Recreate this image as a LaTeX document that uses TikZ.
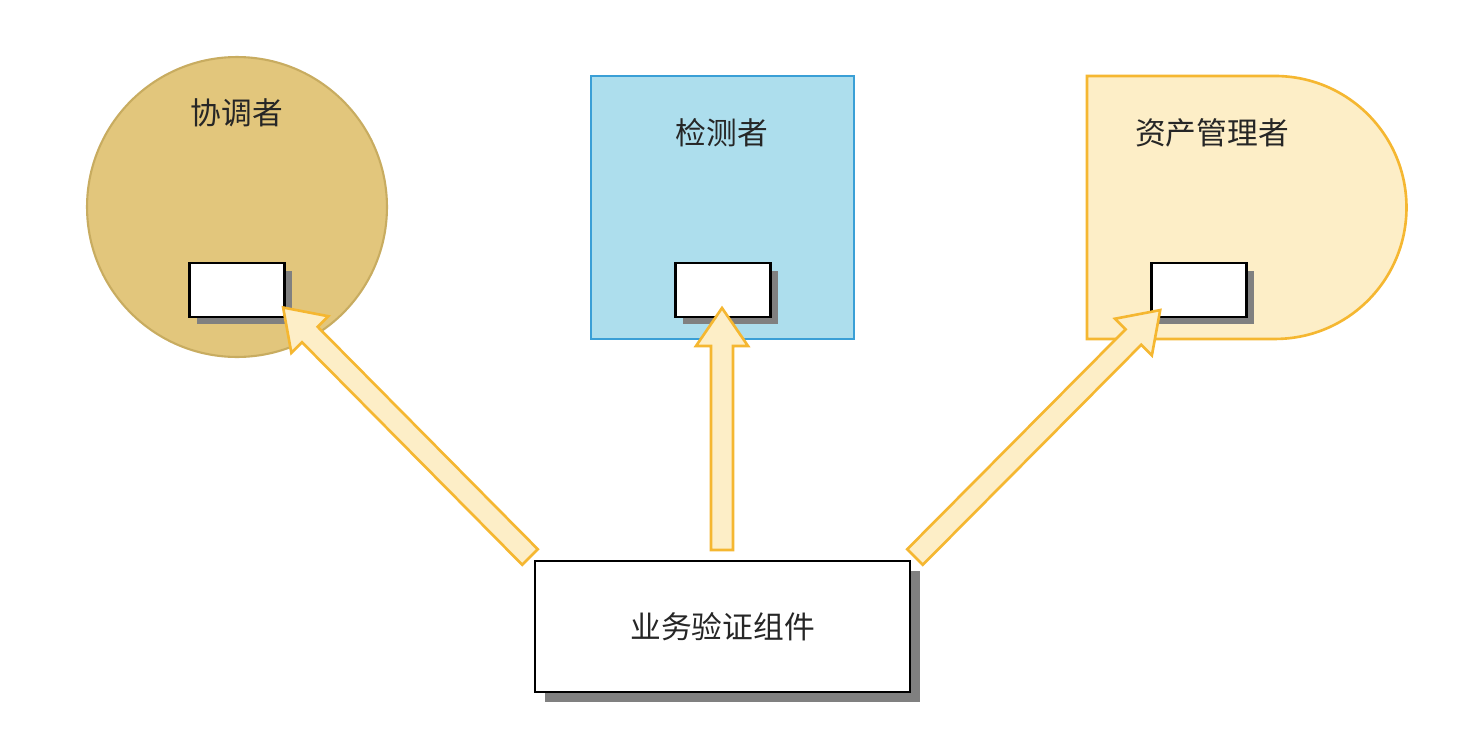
\documentclass[tikz,border=0pt]{standalone}
\usepackage{fontspec}
\newfontfamily\cjk{Noto Sans CJK SC}
\begin{document}
\begin{tikzpicture}[x=0.02cm,y=-0.02cm,
  lbl/.style={font=\cjk\fontsize{17.5}{20}\selectfont,text=black!85},
  port/.style={draw=black,line width=1.2pt,fill=white,minimum width=1.9cm,minimum height=1.08cm,inner sep=0pt},
  shadowbox/.style={fill=black!50},
  blk/.style={fill=arrowfill,draw=arrowline,line width=1.5pt,line join=miter}]
\definecolor{arrowfill}{HTML}{FDEEC7}
\definecolor{arrowline}{HTML}{F5B731}
\definecolor{cfill}{HTML}{E2C67C}\definecolor{cline}{HTML}{C8AC60}
\definecolor{sfill}{HTML}{ADDEED}\definecolor{sline}{HTML}{3A9FD6}
\useasboundingbox (0,0) rectangle (1480,734);
\fill[white] (0,0) rectangle (1480,734);
\draw[fill=cfill,draw=cline,line width=1.2pt] (237,207) circle[radius=3cm];
\draw[fill=sfill,draw=sline,line width=1.5pt] (591,76) rectangle (854,339);
\draw[fill=arrowfill,draw=arrowline,line width=1.5pt] (1087,76) -- (1275,76) arc[start angle=90,end angle=-90,radius=2.63cm] -- (1087,339) -- cycle;
\node[lbl] (t1) at (237,113) {协调者};
\node[lbl] (t2) at (722,133) {检测者};
\node[lbl] (t3) at (1212,133) {资产管理者};
\foreach \n/\x in {p1/237,p2/723,p3/1199}{
  \fill[shadowbox] (\x-40,298) rectangle (\x+55,324);
  \fill[shadowbox] (\x+40,271) rectangle (\x+55,324);
  \node[port] (\n) at (\x,290) {};
}
\fill[black!50] (545,571) rectangle (920,702);
\node[draw=black,line width=1.4pt,fill=white,minimum width=7.5cm,minimum height=2.62cm,lbl] (b) at (722.5,626.5) {业务验证组件};
\newcommand\blockarrow[4]{\begin{scope}[shift={(#1,#2)},rotate=#3]
  \draw[blk] (0,-11)--(#4-38,-11)--(#4-38,-26)--(#4,0)--(#4-38,26)--(#4-38,11)--(0,11)--cycle;\end{scope}}
\blockarrow{530}{557}{134.7}{351}
\blockarrow{722}{550}{90}{242}
\blockarrow{915}{557}{45.2}{348}
\end{tikzpicture}
\end{document}
